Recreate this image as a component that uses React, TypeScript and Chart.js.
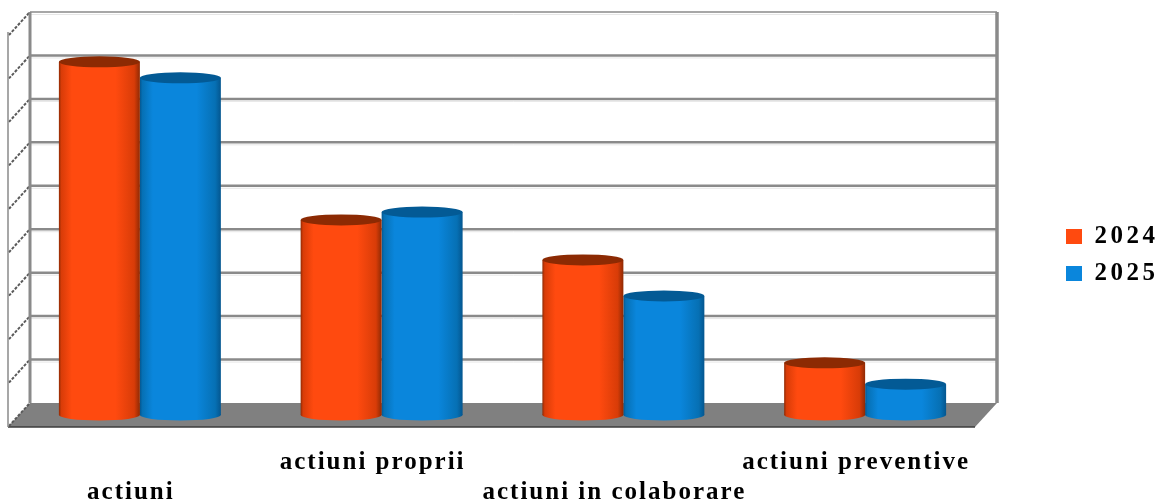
import React, { useEffect, useRef } from "react";
import { Chart, registerables } from "chart.js";

Chart.register(...registerables);

const categories = ["actiuni", "actiuni proprii", "actiuni in colaborare", "actiuni preventive"];
const series2024 = [813, 449, 357, 120];
const series2025 = [776, 467, 274, 71];
const seriesNames = ["2024", "2025"];
const axisMax = 900;
const axisStep = 100;

const solid = ["#ff4a0f", "#0a86dc"];
const edge = ["#8f2a04", "#04568f"];
const side = ["#d83c08", "#0670b4"];
const capColor = ["#8c2a03", "#035a95"];
const FONT = "'Liberation Serif', serif";

const bodyGradient = (ctx: CanvasRenderingContext2D, left: number, w: number, di: number) => {
  const g = ctx.createLinearGradient(left, 0, left + w, 0);
  g.addColorStop(0, edge[di]);
  g.addColorStop(0.03, side[di]);
  g.addColorStop(0.16, solid[di]);
  g.addColorStop(0.7, solid[di]);
  g.addColorStop(0.93, side[di]);
  g.addColorStop(1, edge[di]);
  return g;
};

const wallDx = 11;
const wallDy = -12;
const floorDx = -22;
const floorDy = 24;

const scene = {
  id: "scene",
  beforeDraw(chart: any) {
    (chart.ctx as any).letterSpacing = "2px";
  },
  afterLayout(chart: any) {
    const l = chart.legend;
    if (!l) return;
    l.left = 1054;
    l.right = 1158;
    l.top = 212;
    l.bottom = 499;
    if (!l.__wrapped) {
      l.__wrapped = true;
      const orig = l.draw.bind(l);
      l.draw = (area: any) => {
        const c = chart.ctx as any;
        const prev = c.letterSpacing;
        c.letterSpacing = "3.5px";
        orig(area);
        c.letterSpacing = prev;
      };
    }
  },
  beforeDatasetsDraw(chart: any) {
    const { ctx, chartArea, scales } = chart;
    const L = chartArea.left + wallDx;
    const R = chartArea.right + wallDx;
    const y = scales.y;
    const T = y.getPixelForValue(axisMax) + wallDy;
    const B = y.getPixelForValue(0) + wallDy;
    ctx.save();
    ctx.letterSpacing = "0px";
    // floor
    ctx.fillStyle = "#808080";
    ctx.beginPath();
    ctx.moveTo(L, B);
    ctx.lineTo(R, B);
    ctx.lineTo(R + floorDx, B + floorDy);
    ctx.lineTo(L + floorDx, B + floorDy);
    ctx.closePath();
    ctx.fill();
    ctx.strokeStyle = "#3c3c3c";
    ctx.lineWidth = 1.5;
    ctx.beginPath();
    ctx.moveTo(L + floorDx, B + floorDy);
    ctx.lineTo(R + floorDx, B + floorDy);
    ctx.stroke();
    // grid on back wall, tick marks on the side wall
    y.ticks.forEach((t: any) => {
      const py = y.getPixelForValue(t.value) + wallDy;
      if (t.value > 0) {
        ctx.strokeStyle = "#e6e6e6";
        ctx.lineWidth = 1;
        ctx.beginPath();
        ctx.moveTo(L, py + 2.5);
        ctx.lineTo(R, py + 2.5);
        ctx.stroke();
        ctx.strokeStyle = "#8a8a8a";
        ctx.lineWidth = t.value === axisMax ? 1.5 : 2.5;
        ctx.beginPath();
        ctx.moveTo(L, py);
        ctx.lineTo(R, py);
        ctx.stroke();
      }
      ctx.strokeStyle = "#5a5a5a";
      ctx.lineWidth = 2;
      ctx.setLineDash([3, 1.5]);
      ctx.beginPath();
      ctx.moveTo(L - 1, py + 1);
      ctx.lineTo(L + floorDx + 1, py + floorDy - 1);
      ctx.stroke();
      ctx.setLineDash([]);
    });
    // wall edges
    ctx.strokeStyle = "#8a8a8a";
    ctx.lineWidth = 3;
    ctx.beginPath();
    ctx.moveTo(L, T);
    ctx.lineTo(L, B);
    ctx.stroke();
    ctx.lineWidth = 3.5;
    ctx.beginPath();
    ctx.moveTo(R, T);
    ctx.lineTo(R, B);
    ctx.stroke();
    ctx.lineWidth = 1.5;
    ctx.beginPath();
    ctx.moveTo(L + floorDx, T + floorDy - 4);
    ctx.lineTo(L + floorDx, B + floorDy);
    ctx.stroke();
    ctx.restore();
    // bottoms of the cylinders
    chart.data.datasets.forEach((_: any, di: number) => {
      chart.getDatasetMeta(di).data.forEach((bar: any) => {
        ctx.save();
        ctx.fillStyle = bodyGradient(ctx, bar.x - bar.width / 2, bar.width, di);
        ctx.beginPath();
        ctx.ellipse(bar.x, bar.base, bar.width / 2, 5.5, 0, 0, Math.PI * 2);
        ctx.fill();
        ctx.restore();
      });
    });
  },
  afterDatasetsDraw(chart: any) {
    const { ctx } = chart;
    chart.data.datasets.forEach((_: any, di: number) => {
      chart.getDatasetMeta(di).data.forEach((bar: any) => {
        ctx.save();
        ctx.fillStyle = capColor[di];
        ctx.beginPath();
        ctx.ellipse(bar.x, bar.y, bar.width / 2, 5.5, 0, 0, Math.PI * 2);
        ctx.fill();
        ctx.restore();
      });
    });
  },
};

const makeDataset = (label: string, data: number[], di: number) => ({
  label,
  data,
  borderWidth: 0,
  categoryPercentage: 0.67,
  barPercentage: 1,
  backgroundColor: (c: any) => {
    const chart = c.chart;
    if (c.dataIndex === undefined || !chart.chartArea) return solid[di];
    const x = chart.scales.x;
    const band = (chart.chartArea.right - chart.chartArea.left) / categories.length;
    const w = (band * 0.67) / 2;
    const center = x.getPixelForValue(c.dataIndex);
    return bodyGradient(chart.ctx, di === 0 ? center - w : center, w, di);
  },
});

export default function App() {
  const ref = useRef<HTMLCanvasElement>(null);
  useEffect(() => {
    const chart = new Chart(ref.current!, {
      type: "bar",
      data: {
        labels: categories.map((c, i) => (i % 2 === 0 ? ["", c] : [c, ""])) as any,
        datasets: [makeDataset(seriesNames[0], series2024, 0), makeDataset(seriesNames[1], series2025, 1)],
      },
      plugins: [scene],
      options: {
        animation: false,
        responsive: false,
        devicePixelRatio: 1,
        layout: { padding: { left: 19, right: 172, top: 24, bottom: 0 } },
        plugins: {
          title: { display: false },
          tooltip: { enabled: false },
          legend: {
            display: true,
            position: "chartArea" as any,
            align: "start",
            fullSize: false,
            labels: {
              boxWidth: 16,
              boxHeight: 15,
              padding: 12,
              color: "#000",
              font: { family: FONT, size: 25, weight: "bold" },
              generateLabels: (c: any) =>
                (Chart.defaults.plugins.legend.labels as any).generateLabels(c).map((it: any) => ({
                  ...it,
                  fillStyle: solid[it.datasetIndex],
                  strokeStyle: solid[it.datasetIndex],
                  lineWidth: 0,
                })),
            },
          },
        },
        scales: {
          x: {
            grid: { display: false, drawTicks: false },
            border: { display: false },
            afterFit: (s: any) => {
              s.height = 84;
            },
            ticks: {
              color: "#000",
              autoSkip: false,
              maxRotation: 0,
              minRotation: 0,
              padding: 33,
              labelOffset: -9,
              font: { family: FONT, size: 25, weight: "bold", lineHeight: 1.18 },
            },
          },
          y: {
            min: 0,
            max: axisMax,
            grid: { display: false, drawTicks: false },
            border: { display: false },
            afterFit: (s: any) => {
              s.width = 0;
            },
            ticks: { stepSize: axisStep, display: false },
          },
        },
      },
    });
    return () => chart.destroy();
  }, []);
  return (
    <div style={{ position: "absolute", left: 0, top: 0, width: 1158, height: 499, background: "#fff" }}>
      <canvas ref={ref} width={1158} height={499} style={{ display: "block" }} />
    </div>
  );
}
